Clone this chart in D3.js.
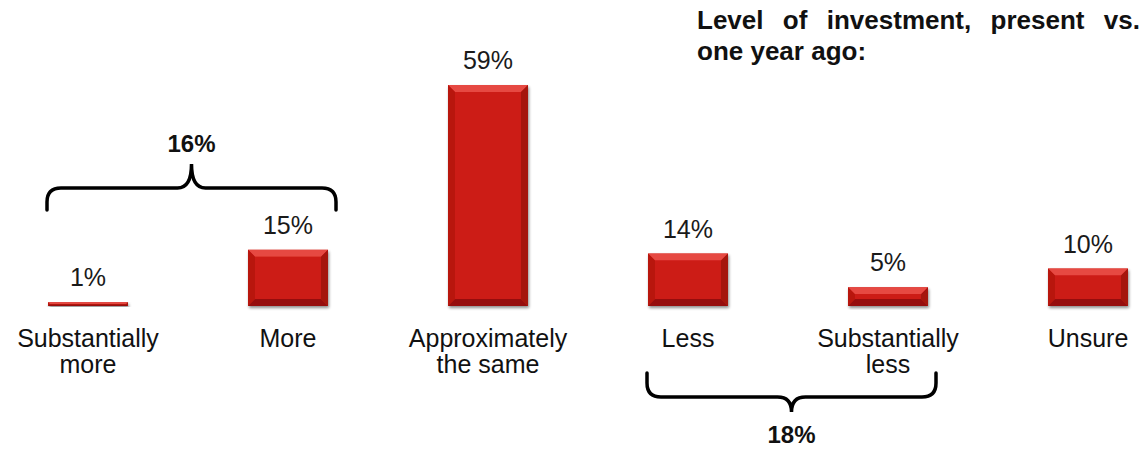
<!DOCTYPE html>
<html>
<head>
<meta charset="utf-8">
<script src="https://cdn.jsdelivr.net/npm/d3@7"></script>
<style>
  html, body { margin: 0; padding: 0; background: #fff; }
  svg { display: block; font-family: "Liberation Sans", Arial, sans-serif; }
</style>
</head>
<body>
<svg id="chart" width="1145" height="449"></svg>
<script>
// Survey answers and shares
const categories = ["Substantially more", "More", "Approximately the same", "Less", "Substantially less", "Unsure"];
const categoryLines = [["Substantially", "more"], ["More"], ["Approximately", "the same"], ["Less"], ["Substantially", "less"], ["Unsure"]];
const values = [1, 15, 59, 14, 5, 10];
const groupTotals = [
  { from: 0, to: 1, label: "16%", side: "top" },
  { from: 3, to: 4, label: "18%", side: "bottom" }
];
const titleLines = ["Level of investment, present vs.", "one year ago:"];

const svg = d3.select("#chart");
const baseline = 306;

const x = d3.scaleBand()
  .domain(categories)
  .range([-12, 1188])
  .paddingInner(0.6)
  .paddingOuter(0.3);

const y = d3.scaleLinear().domain([0, 59]).range([baseline, 85]);

const defs = svg.append("defs");
const sh = defs.append("filter").attr("id", "shadow").attr("x", "-20%").attr("y", "-20%").attr("width", "140%").attr("height", "140%");
sh.append("feGaussianBlur").attr("in", "SourceAlpha").attr("stdDeviation", 1.5).attr("result", "b");
sh.append("feOffset").attr("in", "b").attr("dx", 1).attr("dy", 1.5).attr("result", "o");
sh.append("feComponentTransfer").attr("in", "o").attr("result", "oa")
  .append("feFuncA").attr("type", "linear").attr("slope", 0.45);
const m = sh.append("feMerge");
m.append("feMergeNode").attr("in", "oa");
m.append("feMergeNode").attr("in", "SourceGraphic");

// Bevelled bars
svg.append("g").selectAll("g").data(values).join("g")
  .attr("filter", "url(#shadow)")
  .each(function (v, i) {
    const g = d3.select(this);
    const x0 = x(categories[i]), w = x.bandwidth();
    const y0 = y(v), h = baseline - y0;
    const b = Math.min(7, h / 2.2);
    const x1 = x0 + w, y1 = baseline;
    g.append("rect").attr("x", x0).attr("y", y0).attr("width", w).attr("height", h).attr("fill", "#cc1c16");
    const poly = (pts, c) => g.append("polygon").attr("points", pts.map(p => p.join(",")).join(" ")).attr("fill", c);
    poly([[x0, y0], [x1, y0], [x1 - b, y0 + b], [x0 + b, y0 + b]], "#e64a42");
    poly([[x0, y0], [x0 + b, y0 + b], [x0 + b, y1 - b], [x0, y1]], "#b8150f");
    poly([[x1, y0], [x1, y1], [x1 - b, y1 - b], [x1 - b, y0 + b]], "#a5120d");
    poly([[x0, y1], [x0 + b, y1 - b], [x1 - b, y1 - b], [x1, y1]], "#96110c");
    g.append("rect").attr("x", x0 + b).attr("y", y0 + b).attr("width", Math.max(0, w - 2 * b)).attr("height", Math.max(0, h - 2 * b)).attr("fill", "#cc1c16");
  });

// Value labels
svg.append("g").selectAll("text").data(values).join("text")
  .attr("x", (d, i) => x(categories[i]) + x.bandwidth() / 2)
  .attr("y", d => y(d) - 16)
  .attr("text-anchor", "middle")
  .attr("font-size", 25)
  .attr("fill", "#1a1a1a")
  .text(d => d + "%");

// Category labels
const cat = svg.append("g").selectAll("text").data(categoryLines).join("text")
  .attr("x", (d, i) => x(categories[i]) + x.bandwidth() / 2)
  .attr("y", 347)
  .attr("text-anchor", "middle")
  .attr("font-size", 25)
  .attr("fill", "#111");
cat.selectAll("tspan").data(d => d).join("tspan")
  .attr("x", function () { return d3.select(this.parentNode).attr("x"); })
  .attr("dy", (d, j) => j === 0 ? 0 : 26)
  .text(d => d);

// Curly braces grouping answers
function bracePath(xa, xb, yTip, yMid, yPeak, r) {
  const dir = Math.sign(yPeak - yTip);
  const xm = (xa + xb) / 2;
  return [
    `M${xa},${yTip}`,
    `L${xa},${yMid - dir * r}`,
    `Q${xa},${yMid} ${xa + r},${yMid}`,
    `L${xm - r},${yMid}`,
    `Q${xm},${yMid} ${xm},${yPeak}`,
    `Q${xm},${yMid} ${xm + r},${yMid}`,
    `L${xb - r},${yMid}`,
    `Q${xb},${yMid} ${xb},${yMid - dir * r}`,
    `L${xb},${yTip}`
  ].join(" ");
}

groupTotals.forEach(gt => {
  const xa = x(categories[gt.from]) - 1;
  const xb = x(categories[gt.to]) + x.bandwidth() + 8;
  const xm = (xa + xb) / 2;
  const top = gt.side === "top";
  const yTip = top ? 210 : 373;
  const yMid = top ? 188 : 397;
  const yPeak = top ? 164 : 412;
  svg.append("path")
    .attr("d", bracePath(xa, xb, yTip, yMid, yPeak, 14))
    .attr("fill", "none")
    .attr("stroke", "#000")
    .attr("stroke-width", 3.5)
    .attr("stroke-linecap", "round");
  svg.append("text")
    .attr("x", xm)
    .attr("y", top ? 152 : 443)
    .attr("text-anchor", "middle")
    .attr("font-size", 24)
    .attr("font-weight", "bold")
    .attr("fill", "#111")
    .text(gt.label);
});

// Title, first line justified across the block
const title = svg.append("g").attr("font-size", 26).attr("font-weight", "bold").attr("fill", "#111");
const words = titleLines[0].split(" ");
const tx0 = 697, tx1 = 1140;
const tmp = title.append("text").attr("visibility", "hidden");
const widths = words.map(wd => { tmp.text(wd); return tmp.node().getComputedTextLength(); });
tmp.remove();
const gap = (tx1 - tx0 - d3.sum(widths)) / (words.length - 1);
let cx = tx0;
words.forEach((wd, i) => {
  title.append("text").attr("x", cx).attr("y", 29).text(wd);
  cx += widths[i] + gap;
});
title.append("text").attr("x", tx0).attr("y", 60).text(titleLines[1]);
</script>
</body>
</html>
